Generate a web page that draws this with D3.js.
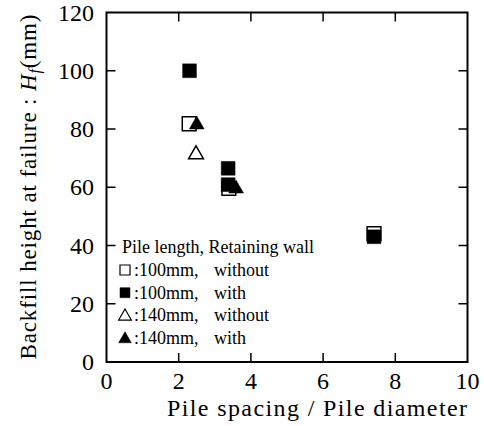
<!DOCTYPE html>
<html>
<head>
<meta charset="utf-8">
<script src="https://cdn.jsdelivr.net/npm/d3@7"></script>
<style>
  body { margin: 0; background: #fff; }
</style>
</head>
<body>
<svg id="chart" width="484" height="426"></svg>
<script>
// values
const xTicks = [0, 2, 4, 6, 8, 10];
const yTicks = [0, 20, 40, 60, 80, 100, 120];

const len100without = [{x: 2.29, y: 81.8}, {x: 3.39, y: 59.6}, {x: 7.41, y: 44.1}];
const len100with = [{x: 2.30, y: 100}, {x: 3.37, y: 66.5}, {x: 3.37, y: 60.9}, {x: 7.41, y: 43.0}];
const len140without = [{x: 2.48, y: 71.8}];
const len140with = [{x: 2.50, y: 82.0}, {x: 3.59, y: 60.0}];

const series = [
  {name: ':100mm,', wall: 'without', data: len100without, shape: d3.symbolSquare, filled: false},
  {name: ':100mm,', wall: 'with', data: len100with, shape: d3.symbolSquare, filled: true},
  {name: ':140mm,', wall: 'without', data: len140without, shape: d3.symbolTriangle, filled: false},
  {name: ':140mm,', wall: 'with', data: len140with, shape: d3.symbolTriangle, filled: true}
];

const serif = "'Liberation Serif', 'Times New Roman', Times, 'DejaVu Serif', serif";
const svg = d3.select('#chart');
const plotLeft = 106.5, plotRight = 467.5, plotTop = 12.5, plotBottom = 362;

const x = d3.scaleLinear().domain([0, 10]).range([plotLeft, plotRight]);
const y = d3.scaleLinear().domain([0, 120]).range([plotBottom, plotTop]);

const tickLen = 9;

// frame
svg.append('rect')
  .attr('x', plotLeft).attr('y', plotTop)
  .attr('width', plotRight - plotLeft).attr('height', plotBottom - plotTop)
  .attr('fill', 'none').attr('stroke', '#000').attr('stroke-width', 2);

// inward ticks on all four sides
const ticks = svg.append('g').attr('stroke', '#000').attr('stroke-width', 1.5);
xTicks.slice(1, -1).forEach(t => {
  ticks.append('line').attr('x1', x(t)).attr('x2', x(t)).attr('y1', plotBottom).attr('y2', plotBottom - tickLen);
  ticks.append('line').attr('x1', x(t)).attr('x2', x(t)).attr('y1', plotTop).attr('y2', plotTop + tickLen);
});
yTicks.slice(1, -1).forEach(t => {
  ticks.append('line').attr('x1', plotLeft).attr('x2', plotLeft + tickLen).attr('y1', y(t)).attr('y2', y(t));
  ticks.append('line').attr('x1', plotRight).attr('x2', plotRight - tickLen).attr('y1', y(t)).attr('y2', y(t));
});

// tick labels
svg.append('g').selectAll('text')
  .data(xTicks)
  .enter().append('text')
  .attr('x', d => x(d))
  .attr('y', 389)
  .attr('text-anchor', 'middle')
  .style('font-family', serif)
  .style('font-size', '24px')
  .text(d => d);

svg.append('g').selectAll('text')
  .data(yTicks)
  .enter().append('text')
  .attr('x', 94)
  .attr('y', d => y(d) + 8)
  .attr('text-anchor', 'end')
  .style('font-family', serif)
  .style('font-size', '24px')
  .text(d => d);

// axis titles
svg.append('text')
  .attr('x', 467).attr('y', 416)
  .attr('text-anchor', 'end')
  .attr('textLength', 300)
  .attr('lengthAdjust', 'spacing')
  .style('font-family', serif)
  .style('font-size', '24px')
  .text('Pile spacing / Pile diameter');

const yTitle = svg.append('text')
  .attr('transform', 'translate(36,187) rotate(-90)')
  .attr('text-anchor', 'middle')
  .attr('textLength', 345)
  .attr('lengthAdjust', 'spacing')
  .style('font-family', serif)
  .style('font-size', '23px');
yTitle.append('tspan').text('Backfill height at failure : ');
yTitle.append('tspan').style('font-style', 'italic').text('H');
yTitle.append('tspan').style('font-style', 'italic').style('font-size', '16px').attr('dy', 4).text('f');
yTitle.append('tspan').attr('dy', -4).text('(mm)');

// markers, drawn in legend order
series.forEach(s => {
  svg.append('g').selectAll('path')
    .data(s.data)
    .enter().append('path')
    .attr('transform', d => `translate(${x(d.x)},${y(d.y) + (s.shape === d3.symbolTriangle ? 1.5 : 0)})`)
    .attr('d', d3.symbol().type(s.shape).size(s.shape === d3.symbolSquare ? 190 : 95))
    .attr('fill', s.filled ? '#000' : '#fff')
    .attr('stroke', '#000')
    .attr('stroke-width', s.filled ? 0.5 : 1.5);
});

// legend
const legend = svg.append('g').attr('class', 'legend');
legend.append('text')
  .attr('x', 122).attr('y', 253)
  .style('font-family', serif)
  .style('font-size', '18px')
  .text('Pile length, Retaining wall');

const rows = legend.selectAll('g.row')
  .data(series)
  .enter().append('g')
  .attr('class', 'row')
  .attr('transform', (d, i) => `translate(0,${276 + i * 22.7})`);

rows.append('path')
  .attr('transform', d => `translate(125,${d.shape === d3.symbolTriangle ? -5 : -6})`)
  .attr('d', d => d3.symbol().type(d.shape).size(d.shape === d3.symbolSquare ? 100 : 70)())
  .attr('fill', d => d.filled ? '#000' : '#fff')
  .attr('stroke', '#000')
  .attr('stroke-width', d => d.filled ? 0.5 : 1.2);

rows.append('text')
  .attr('x', 134).attr('y', 0)
  .style('font-family', serif)
  .style('font-size', '18px')
  .text(d => d.name);

rows.append('text')
  .attr('x', 214).attr('y', 0)
  .style('font-family', serif)
  .style('font-size', '18px')
  .text(d => d.wall);
</script>
</body>
</html>
